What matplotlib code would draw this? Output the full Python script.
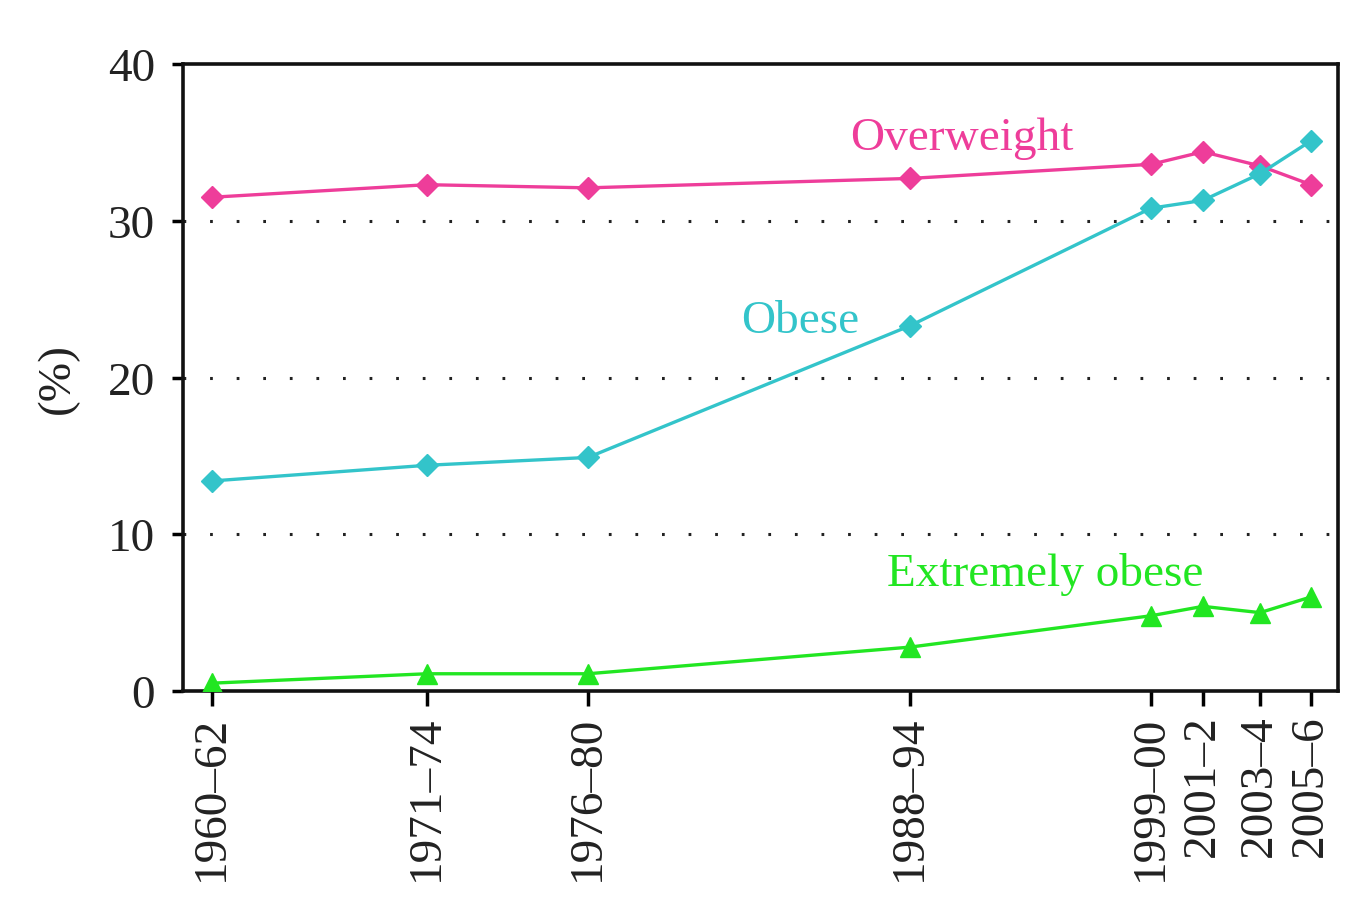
import matplotlib
matplotlib.use("Agg")
import matplotlib.pyplot as plt

# ---- data ----
periods = ["1960–62", "1971–74", "1976–80", "1988–94", "1999–00", "2001–2", "2003–4", "2005–6"]
x_pos = [29, 244, 405, 727, 968, 1020, 1077, 1128]
overweight = [31.5, 32.3, 32.1, 32.7, 33.6, 34.4, 33.5, 32.3]
obese = [13.4, 14.4, 14.9, 23.3, 30.8, 31.3, 33.0, 35.1]
extremely_obese = [0.5, 1.1, 1.1, 2.8, 4.8, 5.4, 5.0, 6.0]
y_ticks = [0, 10, 20, 30, 40]

c_over = "#EE3D9A"
c_obese = "#33C4CA"
c_ext = "#22E622"

plt.rcParams["font.family"] = ["Liberation Serif", "DejaVu Serif"]

fig = plt.figure(figsize=(13.56, 9.04), dpi=100)
ax = fig.add_axes([183/1356, 1-692/904, (1338-183)/1356, (692-65)/904])

for yv in [10, 20, 30]:
    ax.axhline(yv, color="#222222", lw=2.2, linestyle=(0, (0.9, 7.8)), zorder=1)

ax.plot(x_pos, overweight, color=c_over, lw=2.4, marker="D", ms=11, zorder=3)
ax.plot(x_pos, obese, color=c_obese, lw=2.4, marker="D", ms=11, zorder=3)
ax.plot(x_pos, extremely_obese, color=c_ext, lw=2.4, marker="^", ms=14, zorder=3)

fs = 34
ax.text(779, 35.3, "Overweight", color=c_over, fontsize=fs, ha="center", va="center")
ax.text(617, 23.6, "Obese", color=c_obese, fontsize=fs, ha="center", va="center")
ax.text(862, 7.5, "Extremely obese", color=c_ext, fontsize=fs, ha="center", va="center")

ax.set_xlim(0, 1155)
ax.set_ylim(0, 40)
ax.set_xticks(x_pos)
ax.set_xticklabels(periods, rotation=90, fontsize=fs, color="#222222")
ax.set_yticks(y_ticks)
ax.set_yticklabels([str(v) for v in y_ticks], fontsize=fs, color="#222222")
ax.tick_params(axis="y", direction="out", length=8, width=2.5, pad=12)
ax.tick_params(axis="x", direction="out", length=11, width=2.5, pad=6)
for s in ax.spines.values():
    s.set_linewidth(2.6)
    s.set_color("#111111")
ax.set_ylabel("(%)", fontsize=fs, color="#222222")
ax.yaxis.set_label_coords(-0.09, 0.5)

fig.savefig("out.png", dpi=100)
